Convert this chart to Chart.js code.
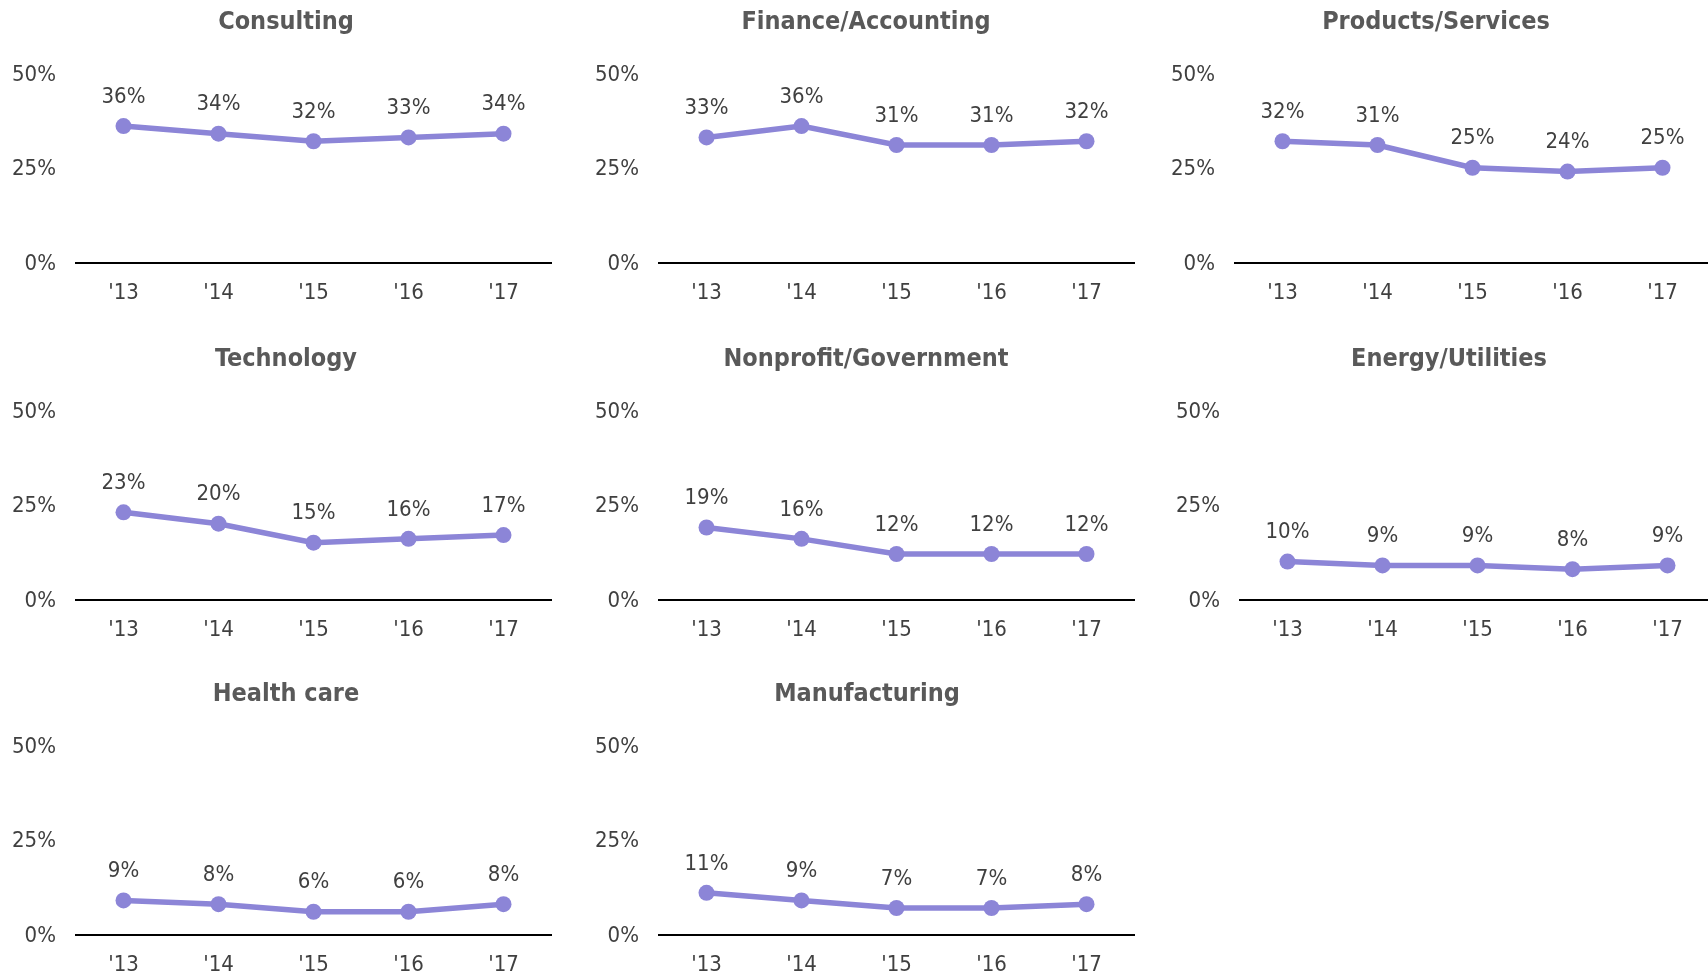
<!DOCTYPE html>
<html>
<head>
<meta charset="utf-8">
<script src="https://cdn.jsdelivr.net/npm/chart.js@4"></script>
<style>
  html, body { margin: 0; padding: 0; background: #fff; overflow: hidden; width: 1708px; height: 976px; }
  .panel { position: absolute; }
  .panel canvas { position: absolute; left: 0; top: 0; }
  .ttl { position: absolute; top: 6px; font-weight: bold; color: #595959; white-space: nowrap; transform: translateX(-50%); line-height: 30px; }
</style>
</head>
<body>
<div id="wrap"></div>
<script>
const years = ["'13", "'14", "'15", "'16", "'17"];
const yTicks = [0, 25, 50];

const consulting = [36, 34, 32, 33, 34];
const finance = [33, 36, 31, 31, 32];
const products = [32, 31, 25, 24, 25];
const technology = [23, 20, 15, 16, 17];
const nonprofit = [19, 16, 12, 12, 12];
const energy = [10, 9, 9, 8, 9];
const healthCare = [9, 8, 6, 6, 8];
const manufacturing = [11, 9, 7, 7, 8];

const titles = ['Consulting', 'Finance/Accounting', 'Products/Services', 'Technology',
  'Nonprofit/Government', 'Energy/Utilities', 'Health care', 'Manufacturing'];
const series = [consulting, finance, products, technology, nonprofit, energy, healthCare, manufacturing];

// plot-area left edge and title centre per panel, row tops
const plotLefts = [76, 659, 1235, 76, 659, 1240, 76, 659];
const titleCenters = [286, 866, 1436, 286, 866, 1449, 286, 867];
const rowTops = [0, 0, 0, 336.5, 336.5, 336.5, 672, 672, 672];

const LINE = '#8C85D7';
const TXT = '#404040';
const AXIS_W = 76, PLOT_W = 475, PAD_R = 10, H = 313;
const W = AXIS_W + PLOT_W + PAD_R;

// condensed DejaVu is closer to the original Tahoma look, if it is there
const probe = document.createElement('canvas').getContext('2d');
probe.font = '40px "DejaVu Sans Condensed", monospace';
const wc = probe.measureText('Consulting 50%').width;
probe.font = '40px monospace';
const wm = probe.measureText('Consulting 50%').width;
const hasCond = Math.abs(wc - wm) > 1;
const FAM = hasCond ? 'DejaVu Sans Condensed' : 'DejaVu Sans';
const FS = hasCond ? 22 : 20;
const TFS = hasCond ? 25 : 22;

const pointLabels = {
  id: 'pointLabels',
  afterDatasetsDraw(chart) {
    const ctx = chart.ctx;
    const meta = chart.getDatasetMeta(0);
    ctx.save();
    ctx.font = FS + 'px "' + FAM + '", sans-serif';
    ctx.fillStyle = TXT;
    ctx.textAlign = 'center';
    ctx.textBaseline = 'middle';
    meta.data.forEach((pt, i) => {
      ctx.fillText(chart.data.datasets[0].data[i] + '%', pt.x, pt.y - 29);
    });
    ctx.restore();
  }
};

const wrap = document.getElementById('wrap');

series.forEach((vals, i) => {
  const left = plotLefts[i] - AXIS_W;
  const top = rowTops[i];
  const panel = document.createElement('div');
  panel.className = 'panel';
  panel.style.left = left + 'px';
  panel.style.top = top + 'px';
  panel.style.width = W + 'px';
  panel.style.height = H + 'px';
  const cv = document.createElement('canvas');
  cv.width = W;
  cv.height = H;
  cv.style.width = W + 'px';
  cv.style.height = H + 'px';
  panel.appendChild(cv);
  const t = document.createElement('div');
  t.className = 'ttl';
  t.style.left = (titleCenters[i] - left) + 'px';
  t.style.fontFamily = '"' + FAM + '", sans-serif';
  t.style.fontSize = TFS + 'px';
  t.textContent = titles[i];
  panel.appendChild(t);
  wrap.appendChild(panel);

  new Chart(cv, {
    type: 'line',
    data: {
      labels: years,
      datasets: [{
        data: vals,
        borderColor: LINE,
        backgroundColor: LINE,
        borderWidth: 5.5,
        pointRadius: 8,
        pointBorderWidth: 0,
        pointBackgroundColor: LINE,
        tension: 0
      }]
    },
    options: {
      responsive: false,
      animation: false,
      devicePixelRatio: 1,
      layout: { padding: { top: 73, right: PAD_R, left: 0, bottom: 0 } },
      plugins: { legend: { display: false }, tooltip: { enabled: false }, title: { display: false } },
      scales: {
        x: {
          offset: true,
          grid: { display: false, drawTicks: false },
          border: { display: true, color: '#000', width: 2 },
          ticks: { color: TXT, font: { family: FAM, size: FS }, padding: 17.5 },
          afterFit: (s) => { s.height = 50.5; }
        },
        y: {
          min: 0, max: 50,
          afterBuildTicks: (s) => { s.ticks = yTicks.map(v => ({ value: v })); },
          grid: { display: false, drawTicks: false },
          border: { display: false },
          ticks: { color: TXT, font: { family: FAM, size: FS }, padding: 20, labelOffset: 2, autoSkip: false, callback: v => v + '%' },
          afterFit: (s) => { s.width = AXIS_W; }
        }
      }
    },
    plugins: [pointLabels]
  });
});
</script>
</body>
</html>
